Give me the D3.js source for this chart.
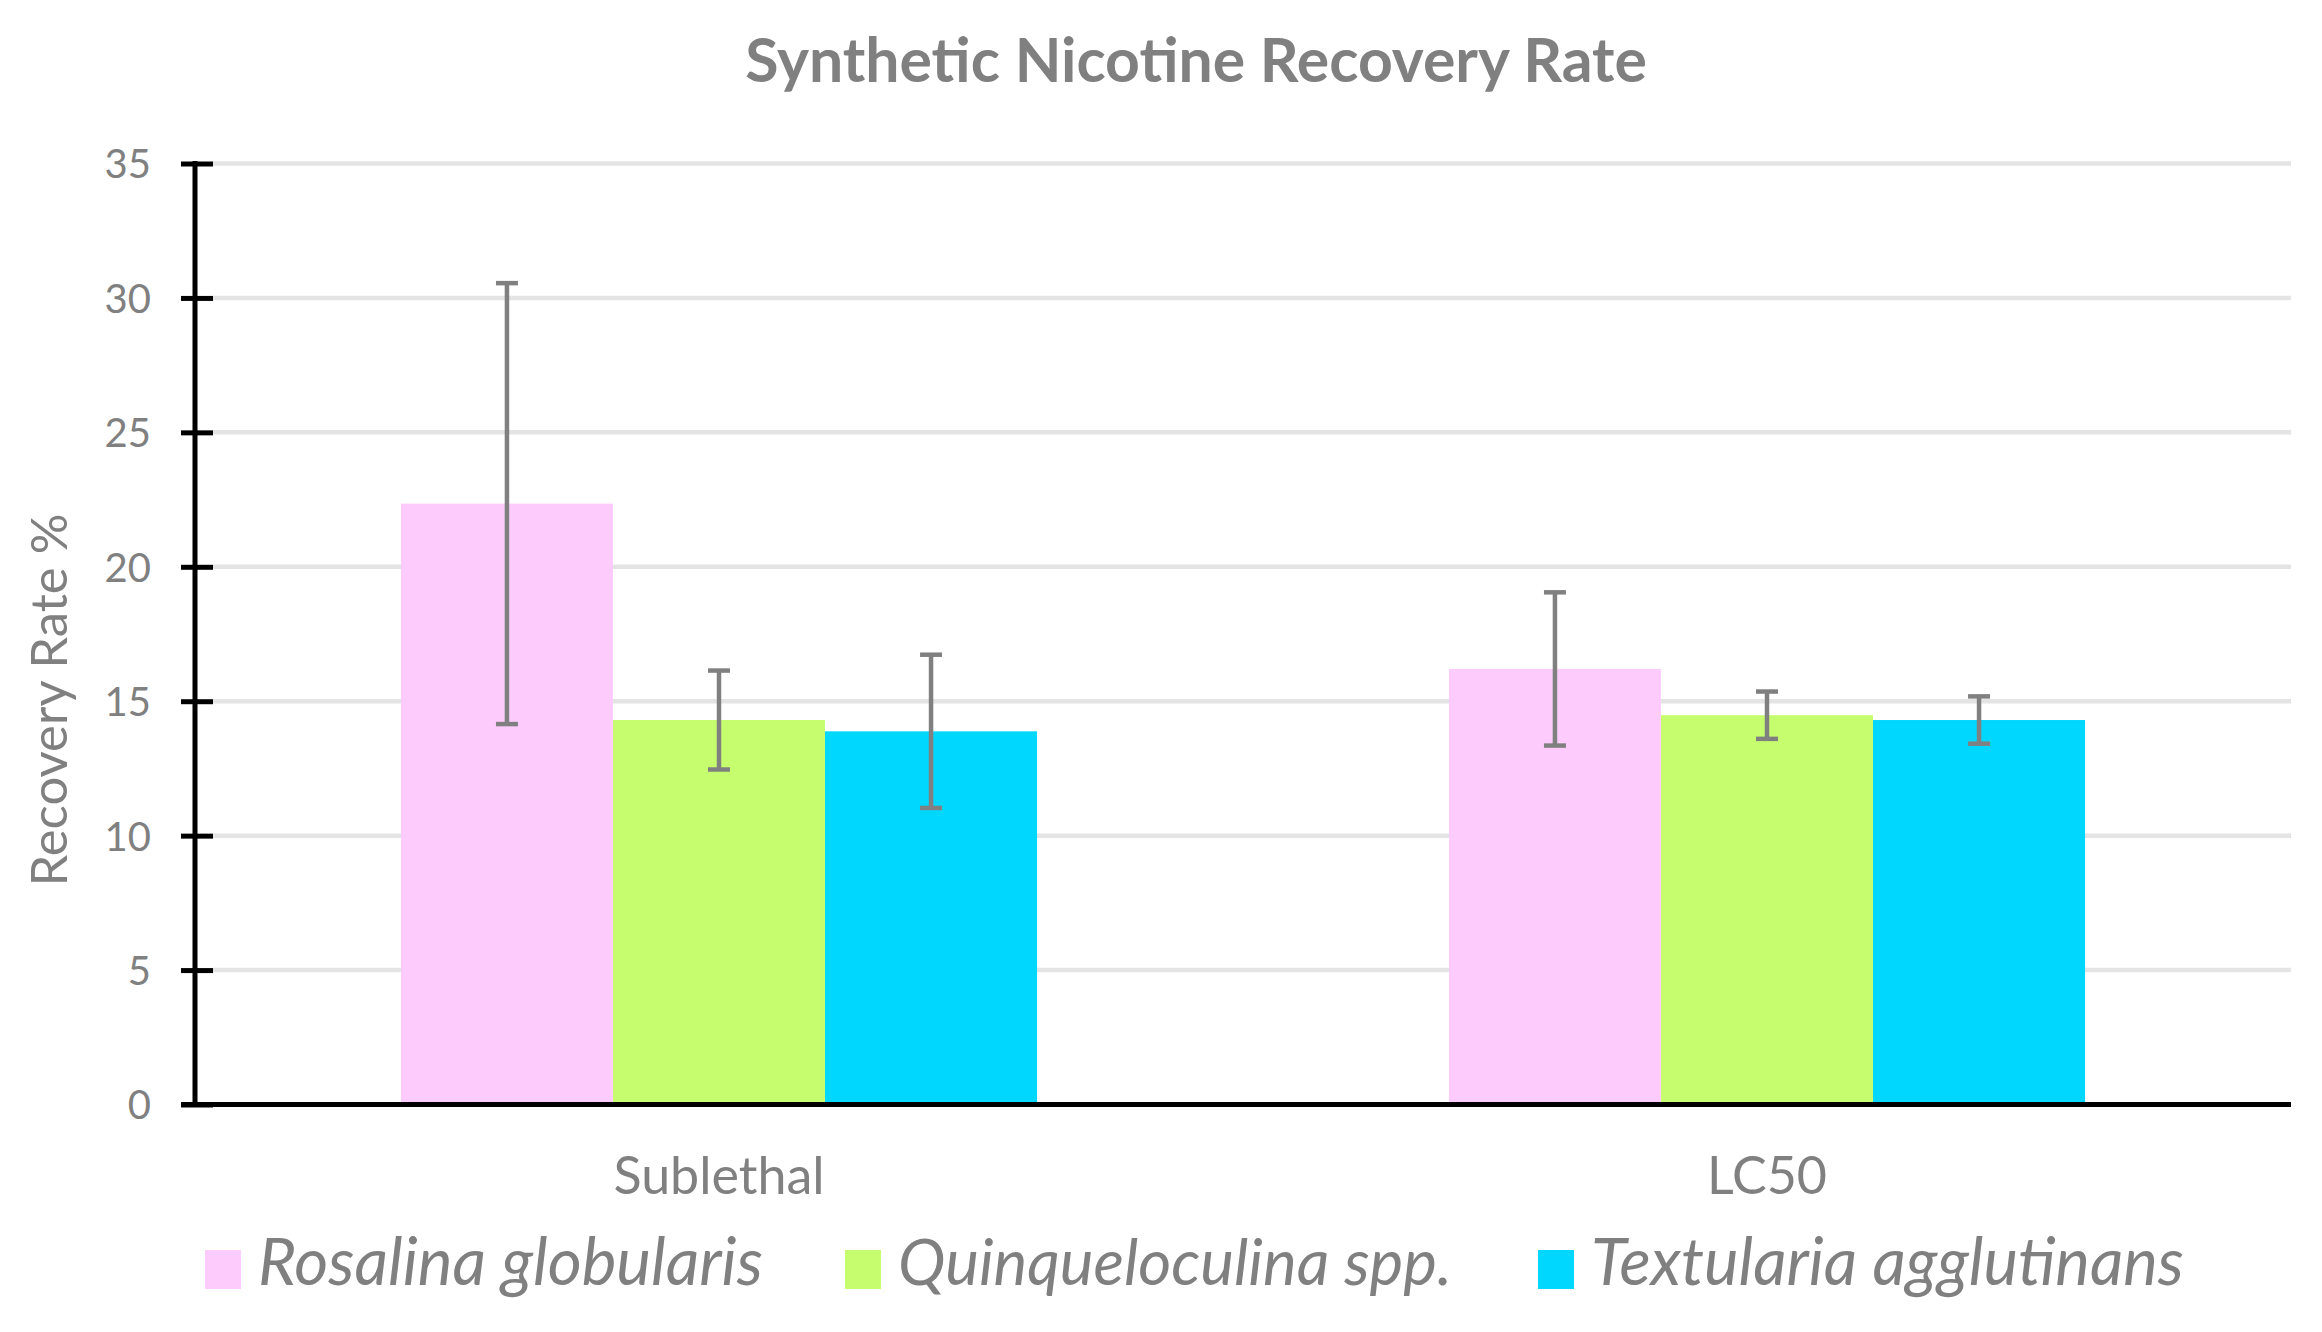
<!DOCTYPE html>
<html>
<head>
<meta charset="utf-8">
<script src="https://cdn.jsdelivr.net/npm/d3@7"></script>
<style>
  html, body { margin: 0; padding: 0; background: #fff; }
  svg { display: block; }
</style>
</head>
<body>
<svg id="chart" width="2322" height="1332"></svg>
<script>
// ---- data ----
const categories = ["Sublethal", "LC50"];
const seriesNames = ["Rosalina globularis", "Quinqueloculina spp.", "Textularia agglutinans"];
const rosalinaMeans = [22.35, 16.2];
const quinqueMeans = [14.3, 14.48];
const textulariaMeans = [13.88, 14.3];
const rosalinaErr = [8.2, 2.85];
const quinqueErr = [1.84, 0.88];
const textulariaErr = [2.85, 0.88];
const yTicks = [0, 5, 10, 15, 20, 25, 30, 35];
const seriesColors = ["#FDCCFD", "#C6FD6F", "#00D7FE"];
const chartTitle = "Synthetic Nicotine Recovery Rate";
const yTitle = "Recovery Rate %";

const meansBySeries = [rosalinaMeans, quinqueMeans, textulariaMeans];
const errBySeries = [rosalinaErr, quinqueErr, textulariaErr];
const rows = [];
categories.forEach((c, ci) => {
  seriesNames.forEach((s, si) => {
    rows.push({cat: c, series: s, si: si, value: meansBySeries[si][ci], err: errBySeries[si][ci]});
  });
});

// ---- layout ----
const svg = d3.select("#chart");
const FONT = "Lato, 'Open Sans', sans-serif";
const GRAY = "#808080";
const plot = {left: 195, right: 2291, top: 163.5, bottom: 1104.5};

const x0 = d3.scaleBand().domain(categories).range([plot.left, plot.right])
  .paddingInner(0.393).paddingOuter(0.1965);
const x1 = d3.scaleBand().domain(seriesNames).range([0, x0.bandwidth()]).padding(0);
const y = d3.scaleLinear().domain([0, 35]).range([plot.bottom, plot.top]);
const color = d3.scaleOrdinal().domain(seriesNames).range(seriesColors);

function fitWidth(sel, target) {
  const w = sel.node().getComputedTextLength();
  const fs = parseFloat(sel.attr("font-size"));
  sel.attr("font-size", fs * target / w);
}

// gridlines
svg.append("g").selectAll("line").data(yTicks.filter(t => t > 0)).join("line")
  .attr("x1", 213).attr("x2", plot.right)
  .attr("y1", d => y(d)).attr("y2", d => y(d))
  .attr("stroke", "#E4E4E4").attr("stroke-width", 4.5);

// bars
svg.append("g").selectAll("rect").data(rows).join("rect")
  .attr("x", d => x0(d.cat) + x1(d.series))
  .attr("y", d => y(d.value))
  .attr("width", x1.bandwidth())
  .attr("height", d => y(0) - y(d.value))
  .attr("fill", d => color(d.series));

// error bars
const eb = svg.append("g").attr("stroke", GRAY).attr("stroke-width", 4.5);
rows.forEach(d => {
  const cx = x0(d.cat) + x1(d.series) + x1.bandwidth() / 2;
  eb.append("line").attr("x1", cx).attr("x2", cx)
    .attr("y1", y(d.value + d.err)).attr("y2", y(d.value - d.err));
  [d.value + d.err, d.value - d.err].forEach(v => {
    eb.append("line").attr("x1", cx - 11).attr("x2", cx + 11)
      .attr("y1", y(v)).attr("y2", y(v));
  });
});

// y axis
const yAxis = d3.axisLeft(y).tickValues(yTicks).tickSize(0).tickPadding(0);
const gy = svg.append("g").attr("transform", `translate(${plot.left},0)`).call(yAxis);
gy.select(".domain").remove();
gy.selectAll(".tick text").attr("x", -44).attr("dy", "0.36em")
  .attr("font-family", FONT).attr("font-size", 40).attr("fill", GRAY);
gy.selectAll(".tick").append("line").attr("x1", -14).attr("x2", 18)
  .attr("stroke", "#000").attr("stroke-width", 5);
svg.append("line").attr("x1", plot.left).attr("x2", plot.left)
  .attr("y1", plot.top - 2.5).attr("y2", plot.bottom)
  .attr("stroke", "#000").attr("stroke-width", 5);

// x axis
const xAxis = d3.axisBottom(x0).tickSize(0).tickPadding(0);
const gx = svg.append("g").attr("transform", `translate(0,${plot.bottom})`).call(xAxis);
gx.select(".domain").remove();
gx.selectAll(".tick text").attr("y", 89).attr("dy", 0)
  .attr("font-family", FONT).attr("font-size", 52).attr("fill", GRAY);
svg.append("line").attr("x1", 181).attr("x2", plot.right)
  .attr("y1", plot.bottom).attr("y2", plot.bottom)
  .attr("stroke", "#000").attr("stroke-width", 5);

// title
const t = svg.append("text").attr("x", 1196).attr("y", 82)
  .attr("text-anchor", "middle").attr("font-family", FONT).attr("font-weight", "bold")
  .attr("font-size", 60).attr("fill", GRAY).text(chartTitle);
fitWidth(t, 902);

// y title
const yt = svg.append("text").attr("transform", "translate(67,700) rotate(-90)")
  .attr("text-anchor", "middle").attr("font-family", FONT)
  .attr("font-size", 52).attr("fill", GRAY).text(yTitle);
fitWidth(yt, 373);

// legend
const legendX = [205, 845, 1538];
const legendW = [505, 554, 593];
const lg = svg.append("g");
seriesNames.forEach((s, i) => {
  lg.append("rect").attr("x", legendX[i]).attr("y", 1250).attr("width", 36).attr("height", 39)
    .attr("fill", color(s));
  const lt = lg.append("text").attr("x", legendX[i] + 53).attr("y", 1285)
    .attr("font-family", FONT).attr("font-style", "italic")
    .attr("font-size", 56).attr("fill", GRAY).text(s);
  fitWidth(lt, legendW[i]);
});
</script>
</body>
</html>
